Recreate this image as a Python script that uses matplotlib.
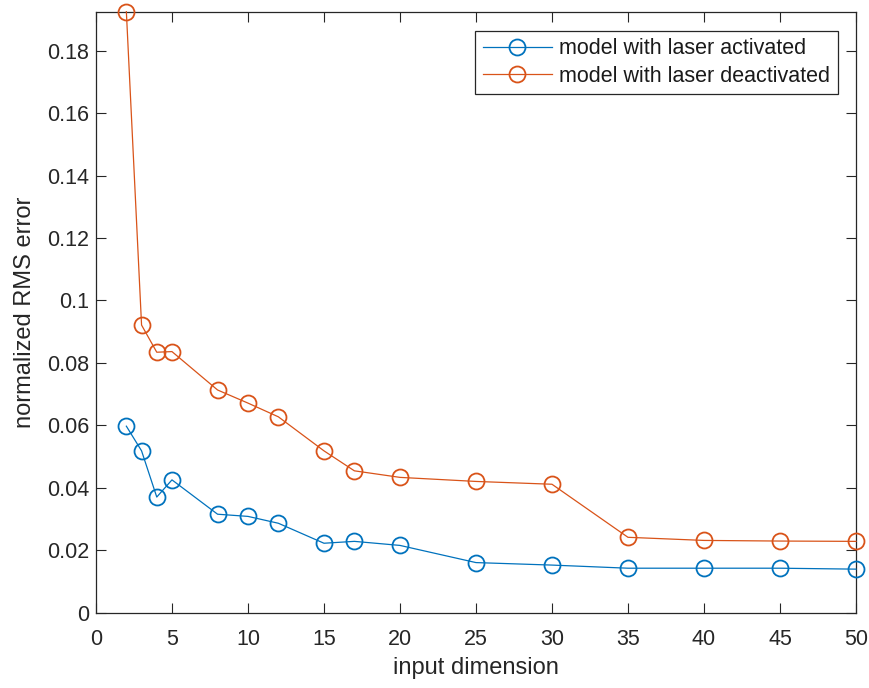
import matplotlib
matplotlib.use("Agg")
import matplotlib.pyplot as plt
from matplotlib.ticker import MultipleLocator

plt.rcParams['font.family'] = ['Liberation Sans', 'DejaVu Sans']

dims = [2, 3, 4, 5, 8, 10, 12, 15, 17, 20, 25, 30, 35, 40, 45, 50]
err_laser_on = [0.0597, 0.0518, 0.0370, 0.0425, 0.0315, 0.0308, 0.0286,
                0.0222, 0.0228, 0.0215, 0.0160, 0.0152, 0.0142, 0.0142,
                0.0142, 0.0139]
err_laser_off = [0.1925, 0.0921, 0.0834, 0.0836, 0.0713, 0.0671, 0.0627,
                 0.0518, 0.0454, 0.0433, 0.0420, 0.0411, 0.0241, 0.0231,
                 0.0229, 0.0228]
series_labels = ['model with laser activated', 'model with laser deactivated']

blue = '#0072BD'
orange = '#D95319'
axis_col = '#262626'

fig = plt.figure(figsize=(8.7, 6.88), dpi=100)
ax = fig.add_axes([0.1103, 0.1097, 0.8736, 0.8733])

for y, c, lab in [(err_laser_on, blue, series_labels[0]),
                  (err_laser_off, orange, series_labels[1])]:
    ax.plot(dims, y, color=c, lw=0.9, marker='o', ms=11.5,
            mfc='none', mec=c, mew=1.3, label=lab, clip_on=False, zorder=3)

ax.set_xlim(0, 50)
ax.set_ylim(0, 0.1925)
ax.xaxis.set_major_locator(MultipleLocator(5))
ax.set_yticks([0, 0.02, 0.04, 0.06, 0.08, 0.1, 0.12, 0.14, 0.16, 0.18])
ax.set_yticklabels(['0', '0.02', '0.04', '0.06', '0.08', '0.1', '0.12',
                    '0.14', '0.16', '0.18'])

ax.tick_params(direction='in', length=7, width=0.8, colors=axis_col,
               labelsize=15.5, top=True, right=True, pad=5)
ax.tick_params(axis='x', pad=12)
for s in ax.spines.values():
    s.set_color(axis_col)
    s.set_linewidth(0.9)

ax.set_xlabel('input dimension', fontsize=17, color=axis_col, labelpad=5)
ax.set_ylabel('normalized RMS error', fontsize=17, color=axis_col, labelpad=8)

leg = ax.legend(loc='upper right', bbox_to_anchor=(0.976, 0.968),
                fontsize=15.5, frameon=True, fancybox=False, framealpha=1,
                edgecolor=axis_col, borderpad=0.35, labelspacing=0.3,
                handlelength=3.2, handletextpad=0.35, borderaxespad=0)
leg.get_frame().set_linewidth(0.9)
for t in leg.get_texts():
    t.set_color('#1a1a1a')

fig.savefig('out.png', dpi=100)
